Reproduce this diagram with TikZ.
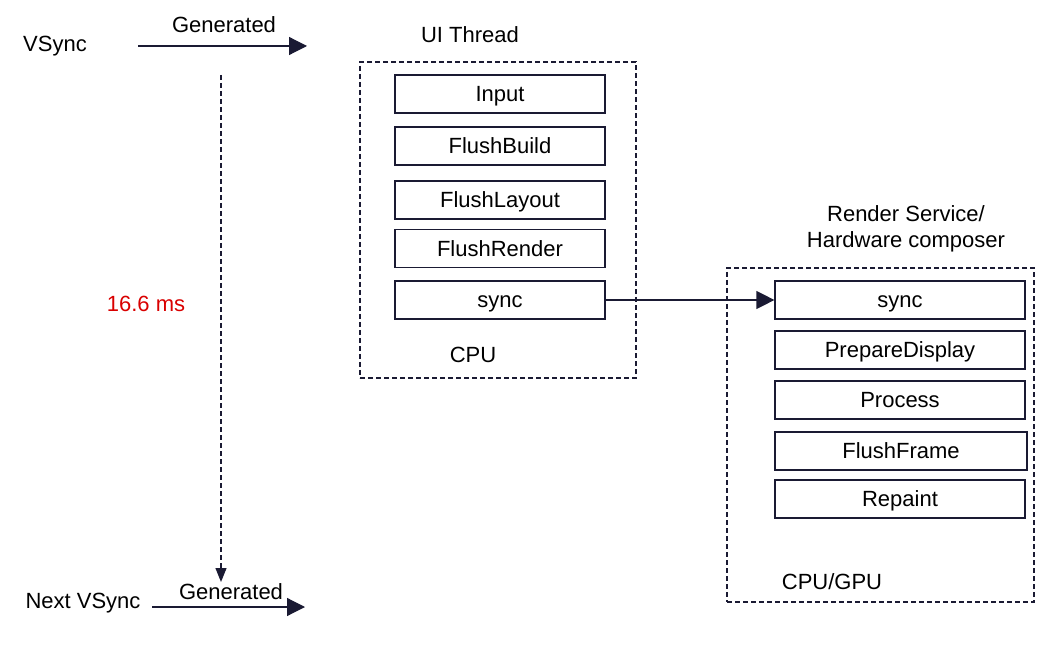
\documentclass[tikz,border=0pt]{standalone}
\usepackage{fontspec}
\setmainfont{Liberation Sans}
\usetikzlibrary{arrows.meta}
\definecolor{ink}{HTML}{1A1A33}
\begin{document}
\begin{tikzpicture}[x=1pt,y=-1pt,
  txt/.style={font=\fontsize{22}{26}\selectfont, inner sep=0pt},
  blk/.style={draw=ink, line width=1.2pt, font=\fontsize{22}{26}\selectfont, minimum height=38pt, inner sep=0pt, text height=15.8pt, text depth=0pt},
  grp/.style={draw=ink, line width=1.2pt, dash pattern=on 5pt off 3pt},
  arr/.style={draw=ink, line width=1.2pt, -{Triangle[length=18pt,width=18pt]}}]
\useasboundingbox (0,0) rectangle (1052,652);
\node[txt] (vs) at (55,46) {VSync};
\coordinate (g1s) at (138,46); \coordinate (g1e) at (307,46);
\draw[arr] (g1s) -- (g1e);
\node[txt] (gen1) at (224,25) {Generated};
\coordinate (ds) at (221,75); \coordinate (de) at (221,582);
\draw[grp, -{Triangle[length=14pt,width=11pt]}] (ds) -- (de);
\node[txt, text=red!85!black] (ms) at (146,304) {16.6 ms};
\node[txt] (nvs) at (83,603) {Next VSync};
\coordinate (g2s) at (152,607); \coordinate (g2e) at (305,607);
\draw[arr] (g2s) -- (g2e);
\node[txt] (gen2) at (231,592) {Generated};

\node[txt] (ui) at (470,35) {UI Thread};
\node[grp, minimum width=276pt, minimum height=316pt] (uib) at (498,220) {};
\node[blk, minimum width=210pt] (in) at (500,94) {Input};
\node[blk, minimum width=210pt] (fb) at (500,146) {FlushBuild};
\node[blk, minimum width=210pt] (fl) at (500,200) {FlushLayout};
\node[blk, minimum width=210pt] (fr) at (500,248.5) {FlushRender};
\node[blk, minimum width=210pt] (s1) at (500,300) {sync};
\node[txt] (cpu) at (473,355) {CPU};

\node[txt, align=center] (rs) at (906,229) {Render Service/\\Hardware composer};
\node[grp, minimum width=307pt, minimum height=334pt] (rsb) at (880.5,435) {};
\node[blk, minimum width=250pt] (s2) at (900,300) {sync};
\node[blk, minimum width=250pt] (pd) at (900,350) {PrepareDisplay};
\node[blk, minimum width=250pt] (pr) at (900,400) {Process};
\node[blk, minimum width=252pt] (ff) at (901,451) {FlushFrame};
\node[blk, minimum width=250pt] (rp) at (900,499) {Repaint};
\node[txt] (cg) at (832,582) {CPU/GPU};

\draw[arr] (s1.east) -- (s2.west);
\end{tikzpicture}
\end{document}
